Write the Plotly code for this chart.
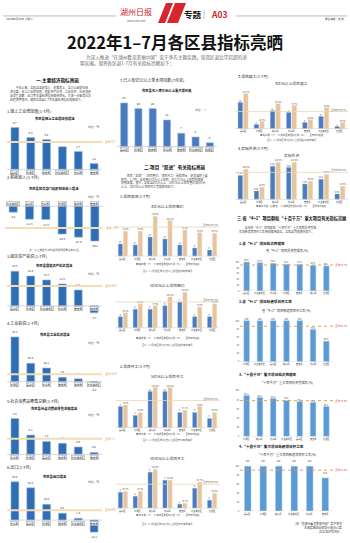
import plotly.graph_objects as go

W, H = 350, 543
FONT = "Noto Sans CJK SC"

# ================= 文字 =================
HEAD_DATE = "2022年8月30日  星期二"
HEAD_EDITOR = "责任编辑：沈 燕"
HEAD_PAPER = "湖州日报"
HEAD_URL = "www.hz66.com"
HEAD_SECTION = "专题"
HEAD_PAGE = "A03"
TITLE = "2022年1–7月各区县指标亮晒"
INTRO = ["为深入推进“在湖州看见美丽中国”实干争先主题实践，营造区县比学赶超的浓",
         "厚氛围，现将各区县1-7月有关指标亮晒如下："]

SEC1 = "一.主要经济指标亮丽"
SEC1_TEXT = ["　　今年以来，各区县坚定信心、迎难而上，全力以赴稳住经",
             "济大盘，规上工业增加值、固定资产投资、工业投资、社会消费",
             "品零售总额、出口等主要经济指标保持增长。为进一步营造比学",
             "赶超浓厚氛围，现将各区县1-7月主要经济指标亮晒如下。"]

SEC2 = "二.项目“双进”有关指标亮丽"
SEC2_TEXT = ["　　项目“双进”（项目签约、项目开工）是稳增长、促发展的重要",
             "抓手。1-7月，全市签约亿元以上项目、开工亿元以上项目均保持",
             "较快进度。其中，各区县3亿元以上、10亿元以上项目签约和5亿元",
             "以上、10亿元以上项目开工完成情况如下。"]

SEC3 = "三.省“4+1”项目群和“十百千万”重大项目有关指标亮丽"
SEC3_TEXT = ["　　全市省“4+1”项目群和“十百千万”重大项目投资完成",
             "率和新建项目开工率持续保持高位，各区县完成情况如下。"]

FOOTER = ["（市“在湖州看见美丽中国”实干争先",
          "主题实践活动领导小组办公室",
          "2022年8月29日）"]

# ================= 一、主要经济指标 =================
c1_head = "1.规上工业增加值(1-7月)"
c1_title = "各区县规上工业增加值增速"
c1_cats = ["吴兴区", "南浔区", "德清县", "南太湖新区", "长兴县", "安吉县"]
c1_vals = [8.7, 6.6, 6.2, 4.7, 3.7, 1.2]
c1_avg = 5.7

c2_head = "2.税收收入(1-7月)"
c2_title = "各区县税务部门组织税收收入增速"
c2_cats = ["南太湖新区", "吴兴区", "长兴县", "南浔区", "德清县", "安吉县"]
c2_vals = [-5.2, -11.3, -11.6, -24.3, -27.0, -30.4]
c2_avg = -19.1
c2_note = "注：以上数据为扣除留抵退税因素后的口径。"

c3_head = "3.固定资产投资(1-7月)"
c3_title = "各区县固定资产投资增速"
c3_cats = ["吴兴区", "南浔区", "南太湖新区", "长兴县", "安吉县", "德清县"]
c3_vals = [18.3, 15.8, 13.7, 11.6, 8.4, -3.7]
c3_avg = 10.5

c4_head = "4.工业投资(1-7月)"
c4_title = "各区县工业投资增速"
c4_cats = ["南浔区", "吴兴区", "长兴县", "安吉县", "德清县", "南太湖新区"]
c4_vals = [72.3, 29.6, 22.1, 7.0, 4.5, -6.2]
c4_avg = 12.0

c5_head = "5.社会消费品零售总额(1-7月)"
c5_title = "各区县社会消费品零售总额增速"
c5_cats = ["长兴县", "南浔区", "吴兴区", "德清县", "南太湖新区", "安吉县"]
c5_vals = [3.9, 2.1, 1.4, 1.2, 0.8, 0.2]
c5_avg = 1.7

c6_head = "6.出口(1-7月)"
c6_title = "各区县出口增速"
c6_cats = ["长兴县", "吴兴区", "南浔区", "德清县", "南太湖新区", "安吉县"]
c6_vals = [38.4, 32.4, 15.8, 6.9, 1.8, -12.1]
c6_avg = 9.9

c7_head = "7.已入库亿元以上重大项目数(7月末)"
c7_title = "各区县已入库亿元以上重大项目数"
c7_cats = ["吴兴区", "南浔区", "德清县", "长兴县", "安吉县", "南太湖新区", "度假区"]
c7_vals = [23, 20, 20, 14, 7, 5, 2]

# ================= 二、项目“双进” =================
g_cats = ["吴兴区", "南浔区", "德清县", "长兴县", "安吉县", "南太湖新区", "度假区"]

g1_head = "1.项目双进(1-7月)"
g1_title = "3亿元以上项目签约"
g1_blue = [12, 11, 19, 17, 11, 8, 6]
g1_tan = [75.0, 75.0, 120.0, 106.7, 78.6, 70.0, 68.8]
g1_ref = 87.5
g1_names = ["签约数（个）", "完成全年目标比例（%）", "全市平均进度"]
g1_note = "图1：1-7月各区县3亿元以上项目签约完成情况"

g2_title = "10亿元以上项目签约"
g2_blue = [3, 5, 5, 6, 7, 3, 3]
g2_tan = [52.5, 84.0, 77.8, 108.3, 125.0, 73.3, 83.3]
g2_ref = 91.0
g2_names = ["签约数（个）", "完成全年目标比例（%）", "全市平均进度"]
g2_note = "图2：1-7月各区县10亿元以上项目签约完成情况"

g3_head = "2.项目开工(1-7月)"
g3_title = "5亿元以上项目开工"
g3_blue = [7, 4, 12, 12, 5, 5, 3]
g3_tan = [75.0, 50.0, 133.3, 133.3, 57.1, 70.0, 50.0]
g3_ref = 90.0
g3_names = ["开工数（个）", "完成全年目标比例（%）", "全市平均进度"]
g3_note = "图3：1-7月各区县5亿元以上项目开工完成情况"

g4_title = "10亿元以上项目开工"
g4_blue = [4, 3, 9, 7, 1, 5, 2]
g4_tan = [56.7, 56.7, 130.0, 93.3, 16.7, 86.7, 50.0]
g4_ref = 80.0
g4_names = ["开工数（个）", "完成全年目标比例（%）", "全市平均进度"]
g4_note = "图4：1-7月各区县10亿元以上项目开工完成情况"

r1_head = "3.项目竣工(1-7月)"
r1_title = "3亿元以上项目竣工"
r1_blue = [13, 2, 9, 8, 3, 6, 1]
r1_tan = [116.7, 23.3, 83.3, 76.7, 30.0, 70.0, 20.0]
r1_ref = 56.7
r1_names = ["竣工数（个）", "完成全年目标比例（%）", "全市平均进度"]
r1_note = "图5：1-7月各区县3亿元以上项目竣工完成情况"

r2_head = "4.实际外资(1-7月)"
r2_title = "实际外资"
r2_blue = [2.39, 0.82, 3.31, 3.18, 1.52, 2.01, 0.53]
r2_tan = [100.0, 40.0, 123.3, 123.3, 60.0, 83.3, 43.3]
r2_ref = 90.0
r2_names = ["实际外资（亿美元）", "完成全年目标比例（%）", "全市平均进度"]

# ================= 三、省“4+1”和“十百千万” =================
r3_head = "1.省“4+1”项目投资完成率"
r3_title = "省“4+1”项目投资完成率(%)"
r3_cats = ["吴兴区", "南太湖新区", "长兴县", "南浔区", "安吉县", "德清县", "度假区"]
r3_vals = [99.8, 97.5, 95.4, 92.3, 91.9, 88.5, 86.1]
r3_ref = 89.7

r4_head = "2.省“4+1”项目新建项目开工率"
r4_title = "省“4+1”项目新建项目开工率(%)"
r4_cats = ["南浔区", "南太湖新区", "吴兴区", "德清县", "安吉县", "长兴县", "度假区"]
r4_vals = [100, 100, 100, 100, 100, 78.6, 50.0]
r4_ref = 86.7

r5_head = "3.“十百千万”重大项目投资完成率"
r5_title = "“十百千万”重大项目投资完成率(%)"
r5_cats = ["南浔区", "德清县", "长兴县", "南太湖新区", "吴兴区", "安吉县", "度假区"]
r5_vals = [89.1, 84.8, 82.6, 78.3, 76.1, 73.9, 65.2]
r5_ref = 78.0

r6_head = "4.“十百千万”重大项目新建项目开工率"
r6_title = "“十百千万”重大项目新建项目开工率(%)"
r6_cats = ["吴兴区", "南浔区", "德清县", "南太湖新区", "长兴县", "安吉县"]
r6_vals = [100, 100, 100, 100, 100, 74.0]
r6_ref = 91.3

# ================= 颜色 =================
BLUE_DARK = "#2f6db5"
BLUE_EDGE = "#9cc0e8"
BLUE_MID = "#4a7bbf"
BLUE_LIGHT = "#5b9bd5"
TAN = "#e6c59e"
AVG_BAND = "#f2ddb4"
ORANGE = "#e3892e"
RED = "#d9432f"

# ================= 工具 =================
fig = go.Figure()
layout = {}
ann = []
shp = []
counter = [1]


def X(p):
    return p / W


def Y(p):
    return 1 - p / H


def nid():
    counter[0] += 1
    return counter[0]


def text(x, y, s, size=3, color="#333", anchor="center", bold=False, **kw):
    if bold:
        s = "<b>" + s + "</b>"
    ann.append(dict(x=X(x), y=Y(y), xref="paper", yref="paper", text=s, showarrow=False,
                    xanchor=anchor, yanchor="middle",
                    font=dict(size=size, color=color, family=FONT), **kw))


def make_axes(x0, x1, ytop, ybot, base, ppu, ncat):
    n = nid()
    layout[f"xaxis{n}"] = dict(domain=[X(x0), X(x1)], anchor=f"y{n}",
                               range=[-0.5, ncat - 0.5], visible=False, fixedrange=True)
    layout[f"yaxis{n}"] = dict(domain=[Y(ybot), Y(ytop)], anchor=f"x{n}",
                               range=[-(ybot - base) / ppu, (base - ytop) / ppu], visible=False)
    return n


def single(cats, vals, avg, x0, x1, base, ppu, ytop, ybot, head, head_y, title, title_y,
           unit, unit_xy, cat_above=False, fmt="{:.1f}", color=BLUE_DARK, width=0.5):
    n = make_axes(x0, x1, ytop, ybot, base, ppu, len(cats))
    fig.add_trace(go.Bar(x=list(range(len(cats))), y=vals, xaxis=f"x{n}", yaxis=f"y{n}",
                         width=width, marker=dict(color=color, line=dict(color=BLUE_EDGE, width=0.6)),
                         text=[fmt.format(v) for v in vals], textposition="outside",
                         textangle=0, constraintext="none", cliponaxis=False,
                         textfont=dict(size=2.8, color="#333", family=FONT), showlegend=False))
    shp.append(dict(type="line", xref=f"x{n} domain", yref=f"y{n}", x0=0, x1=1, y0=0, y1=0,
                    line=dict(color="#b0b0b0", width=0.5)))
    for i, c in enumerate(cats):
        ann.append(dict(x=i, y=0, xref=f"x{n}", yref=f"y{n}", text=c, showarrow=False,
                        yshift=3 if cat_above else -3, font=dict(size=2.4, color="#222", family=FONT),
                        bordercolor="#9a9a9a", borderwidth=0.4, borderpad=0.2, bgcolor="#f1f1f1"))
    if avg is not None:
        shp.append(dict(type="line", xref=f"x{n} domain", yref=f"y{n}", x0=0, x1=1.0,
                        y0=avg, y1=avg, line=dict(color=AVG_BAND, width=2)))
        ann.append(dict(x=1.0, y=avg, xref=f"x{n} domain", yref=f"y{n}",
                        text=f"全市 {avg}", showarrow=False, xanchor="left", xshift=1,
                        font=dict(size=2.8, color=ORANGE, family=FONT)))
    if x0 < 110:
        text(5, head_y, head, size=4, color="#222", anchor="left")
    else:
        text(x0 + 1, head_y, head, size=4, color="#222", anchor="left")
    text((x0 + x1) / 2, title_y, title, size=3.3, color="#111", bold=True)
    text(unit_xy[0], unit_xy[1], unit, size=2.8, color="#555")
    return n


def grouped(blue, tan, ref, names, x0, x1, base, ytop, ybot, bppu, tppu, title, title_y,
            legend_y, note, note_y, bfmt="{:d}"):
    ncat = len(g_cats)
    n = make_axes(x0, x1, ytop, ybot, base, bppu, ncat)
    m = nid()
    layout[f"yaxis{m}"] = dict(overlaying=f"y{n}", anchor=f"x{n}", visible=False,
                               range=[-(ybot - base) / tppu, (base - ytop) / tppu])
    xs = list(range(ncat))
    fig.add_trace(go.Bar(x=xs, y=blue, xaxis=f"x{n}", yaxis=f"y{n}", width=0.28, offset=-0.31,
                         marker=dict(color=BLUE_MID, line=dict(color="#8fb2e0", width=0.4)),
                         text=[bfmt.format(v) for v in blue], textposition="outside", textangle=0,
                         constraintext="none", cliponaxis=False,
                         textfont=dict(size=2.3, color="#444", family=FONT), showlegend=False))
    fig.add_trace(go.Bar(x=xs, y=tan, xaxis=f"x{n}", yaxis=f"y{m}", width=0.28, offset=0.03,
                         marker=dict(color=TAN, line=dict(color="#f1dcc2", width=0.4)),
                         text=[f"{v:.1f}%" for v in tan], textposition="outside", textangle=0,
                         constraintext="none", cliponaxis=False,
                         textfont=dict(size=2.1, color="#555", family=FONT), showlegend=False))
    shp.append(dict(type="line", xref=f"x{n} domain", yref=f"y{m}", x0=0, x1=1, y0=ref, y1=ref,
                    line=dict(color="#ead6b8", width=0.8)))
    shp.append(dict(type="line", xref=f"x{n} domain", yref=f"y{n}", x0=0, x1=1, y0=0, y1=0,
                    line=dict(color="#c8c8c8", width=0.5)))
    ann.append(dict(x=1.0, y=ref, xref=f"x{n} domain", yref=f"y{m}", text=f"全市平均{ref}%",
                    showarrow=False, xanchor="right", yshift=2,
                    font=dict(size=2.2, color="#7a6a55", family=FONT)))
    for i, c in enumerate(g_cats):
        ann.append(dict(x=i, y=0, xref=f"x{n}", yref=f"y{n}", text=c, showarrow=False, yshift=-2.5,
                        font=dict(size=2.2, color="#333", family=FONT)))
    cx = (x0 + x1) / 2
    text(cx, title_y, title, size=3.8, color="#333")
    leg = (f"<span style='color:{BLUE_MID}'>■</span> {names[0]}　"
           f"<span style='color:{TAN}'>■</span> {names[1]}　"
           f"<span style='color:#e3cfae'>—</span> {names[2]}")
    text(cx, legend_y, leg, size=2.3, color="#444")
    if note:
        text(cx, note_y, note, size=2.4, color="#555")


def rate(cats, vals, ref, x0, x1, base, ppu, ytop, head, head_y, title, title_y):
    n = nid()
    ncat = len(cats)
    layout[f"xaxis{n}"] = dict(domain=[X(x0), X(x1)], anchor=f"y{n}", range=[-0.5, ncat - 0.5],
                               visible=False)
    layout[f"yaxis{n}"] = dict(domain=[Y(base), Y(ytop)], anchor=f"x{n}", range=[0, (base - ytop) / ppu],
                               tickvals=[0, 20, 40, 60, 80, 100], showgrid=False, zeroline=False,
                               tickfont=dict(size=2.3, color="#555", family=FONT), ticks="", showline=False)
    fig.add_trace(go.Bar(x=list(range(ncat)), y=vals, xaxis=f"x{n}", yaxis=f"y{n}", width=0.42,
                         marker=dict(color=BLUE_LIGHT, line=dict(color="#a9c9ec", width=0.5)),
                         text=[f"{v:.1f}" if v != 100 else "100" for v in vals], textposition="outside",
                         textangle=0, constraintext="none", cliponaxis=False,
                         textfont=dict(size=2.3, color="#444", family=FONT), showlegend=False))
    shp.append(dict(type="line", xref=f"x{n} domain", yref=f"y{n}", x0=0, x1=1, y0=0, y1=0,
                    line=dict(color="#cccccc", width=0.5)))
    shp.append(dict(type="line", xref=f"x{n} domain", yref=f"y{n}", x0=0, x1=1, y0=ref, y1=ref,
                    line=dict(color="#e59a3a", width=0.9, dash="dot")))
    ann.append(dict(x=1.0, y=ref, xref=f"x{n} domain", yref=f"y{n}", text=f"全市 {ref}%",
                    showarrow=False, xanchor="left", xshift=0,
                    font=dict(size=2.4, color=RED, family=FONT)))
    for i, c in enumerate(cats):
        ann.append(dict(x=i, y=0, xref=f"x{n}", yref=f"y{n}", text=c, showarrow=False, yshift=-2.5,
                        font=dict(size=2.2, color="#333", family=FONT)))
    text(x0 - 3, head_y, head, size=3.6, color="#222", anchor="left", bold=True)
    text((x0 + x1) / 2, title_y, title, size=3.2, color="#333")


# ================= 页眉 =================
shp.append(dict(type="line", xref="paper", yref="paper", x0=X(3), x1=X(116), y0=Y(16), y1=Y(16),
                line=dict(color="#777", width=0.5)))
shp.append(dict(type="line", xref="paper", yref="paper", x0=X(236), x1=X(347), y0=Y(16), y1=Y(16),
                line=dict(color="#777", width=0.5)))
text(4, 19, HEAD_DATE, size=2.6, color="#444", anchor="left")
text(346, 19, HEAD_EDITOR, size=2.6, color="#444", anchor="right")
text(136, 12, HEAD_PAPER, size=8, color="#c9242b")
text(136, 21, HEAD_URL, size=2.6, color="#666")
for (a, b) in [(158, 165), (167, 178)]:
    shp.append(dict(type="path", xref="paper", yref="paper",
                    path=f"M {X(a)} {Y(23)} L {X(a + 8)} {Y(3)} L {X(b + 8)} {Y(3)} L {X(b)} {Y(23)} Z",
                    fillcolor="#d7262e", line=dict(width=0)))
text(193, 14, HEAD_SECTION, size=8.5, color="#111", bold=True)
text(204, 14, "|", size=8, color="#999")
text(219, 14, HEAD_PAGE, size=8.5, color="#c9242b", bold=True)

text(175, 42, TITLE, size=16.5, color="#111", bold=True)
text(84, 58, INTRO[0], size=4.6, color="#666", anchor="left")
text(78, 64, INTRO[1], size=4.6, color="#666", anchor="left")

# ================= 左栏 =================
text(58, 81, SEC1, size=4.6, color="#111", bold=True)
for i, s in enumerate(SEC1_TEXT):
    text(8, 88 + i * 4, s, size=2.9, color="#444", anchor="left")

single(c1_cats, c1_vals, c1_avg, 7, 102, 170, 4.83, 122, 176, c1_head, 111, c1_title, 119, "单位：%", (93, 127))
single(c2_cats, c2_vals, c2_avg, 5, 103, 207, 1.15, 200, 248, c2_head, 178, c2_title, 189, "单位：%", (93, 198),
       cat_above=True)
text(55, 251, c2_note, size=2.6, color="#555")
single(c3_cats, c3_vals, c3_avg, 7, 102, 307, 1.9, 268, 318, c3_head, 257, c3_title, 266, "单位：%", (93, 275))
single(c4_cats, c4_vals, c4_avg, 7, 102, 383, 0.62, 334, 392, c4_head, 324, c4_title, 336, "单位：%", (93, 344))
single(c5_cats, c5_vals, c5_avg, 7, 102, 456, 9.2, 415, 462, c5_head, 402, c5_title, 410, "单位：%", (93, 417))
single(c6_cats, c6_vals, c6_avg, 7, 102, 522, 1.0, 480, 540, c6_head, 469, c6_title, 478, "单位：%", (93, 484))

# ================= 中栏 =================
single(c7_cats, c7_vals, None, 117, 217, 147, 1.9, 95, 153, c7_head, 80, c7_title, 91, "单位：个", (200, 110),
       fmt="{:d}", color=BLUE_MID, width=0.5)
text(175, 168, SEC2, size=4.6, color="#111", bold=True)
for i, s in enumerate(SEC2_TEXT):
    text(119, 176 + i * 3.8, s, size=2.9, color="#444", anchor="left")
text(118, 197, g1_head, size=3.8, color="#222", anchor="left")
grouped(g1_blue, g1_tan, g1_ref, g1_names, 115.5, 219.5, 257, 212, 262, 1.0, 1 / 3, g1_title, 207, 265, g1_note, 272)
grouped(g2_blue, g2_tan, g2_ref, g2_names, 115.5, 219.5, 329, 292, 333, 3.7, 0.2857, g2_title, 287, 339, g2_note, 346)
text(118, 368, g3_head, size=3.8, color="#222", anchor="left")
grouped(g3_blue, g3_tan, g3_ref, g3_names, 115.5, 219.5, 429, 385, 433, 3.0, 0.3, g3_title, 378, 436, g3_note, 442)
grouped(g4_blue, g4_tan, g4_ref, g4_names, 115.5, 219.5, 510, 466, 514, 4.0, 0.3, g4_title, 460, 517, g4_note, 526)

# ================= 右栏 =================
text(236, 77, r1_head, size=3.8, color="#222", anchor="left")
grouped(r1_blue, r1_tan, r1_ref, r1_names, 235, 348, 129, 88, 133, 2.0, 0.3, r1_title, 84, 136, r1_note, 141)
text(236, 149, r2_head, size=3.8, color="#222", anchor="left")
grouped(r2_blue, r2_tan, r2_ref, r2_names, 235, 348, 200, 160, 204, 10.0, 0.3, r2_title, 156, 207, None, 0,
        bfmt="{:.2f}")
text(291, 219, SEC3, size=4.2, color="#111", bold=True)
for i, s in enumerate(SEC3_TEXT):
    text(237, 228 + i * 4, s, size=2.9, color="#444", anchor="left")
rate(r3_cats, r3_vals, r3_ref, 240, 333, 292, 0.29, 258, r3_head, 244, r3_title, 251)
rate(r4_cats, r4_vals, r4_ref, 240, 333, 363, 0.41, 318, r4_head, 303, r4_title, 312)
rate(r5_cats, r5_vals, r5_ref, 240, 333, 438, 0.46, 389, r5_head, 376, r5_title, 384)
rate(r6_cats, r6_vals, r6_ref, 240, 333, 513, 0.45, 464, r6_head, 448, r6_title, 456)
for i, s in enumerate(FOOTER):
    text(344, 525 + i * 4, s, size=2.9, color="#333", anchor="right")

layout.update(dict(width=W, height=H, margin=dict(l=0, r=0, t=0, b=0), autosize=False,
                   paper_bgcolor="white", plot_bgcolor="rgba(0,0,0,0)", barmode="overlay",
                   showlegend=False, annotations=ann, shapes=shp,
                   font=dict(family=FONT, size=3)))
fig.update_layout(**layout)
fig.write_html("out.html")
